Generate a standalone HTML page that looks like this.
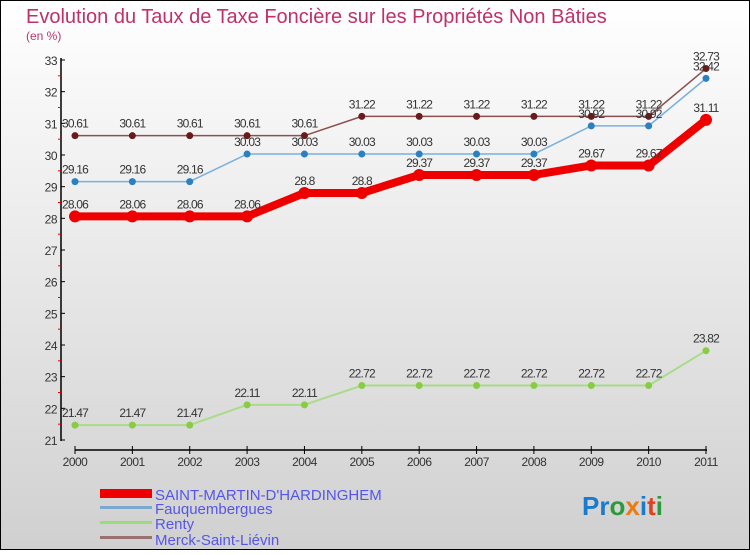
<!DOCTYPE html>
<html><head><meta charset="utf-8"><style>
body{margin:0}
#c{width:750px;height:550px;position:relative;font-family:"Liberation Sans",sans-serif;}
</style></head><body>
<div id="c">
<svg id="s" width="750" height="550" xmlns="http://www.w3.org/2000/svg">
<defs><linearGradient id="bg" x1="0" y1="0" x2="0" y2="1"><stop offset="0" stop-color="#ffffff"/><stop offset="1" stop-color="#d0d0d0"/></linearGradient></defs>
<rect x="0.5" y="0.5" width="749" height="549" fill="url(#bg)" stroke="#000"/>
<text x="26" y="23" font-size="20" fill="#c0306a">Evolution du Taux de Taxe Foncière sur les Propriétés Non Bâties</text>
<text x="26" y="40" font-size="12" fill="#c0306a">(en %)</text>
<g id="axes"></g><g id="series"></g>
<g>
<rect x="100" y="489" width="52" height="9" fill="#e00"/>
<text x="155" y="500" font-size="15" fill="#5555ee">SAINT-MARTIN-D'HARDINGHEM</text>
<rect x="100" y="506" width="52" height="3" fill="#7aa8d0"/>
<text x="155" y="514" font-size="15" fill="#5555ee">Fauquembergues</text>
<rect x="100" y="521" width="52" height="3" fill="#99dd77"/>
<text x="155" y="529" font-size="15" fill="#5555ee">Renty</text>
<rect x="100" y="536" width="52" height="3" fill="#9a7070"/>
<text x="155" y="545" font-size="15" fill="#5555ee">Merck-Saint-Liévin</text>
</g>
<text x="582" y="515" font-size="26" font-weight="bold"><tspan fill="#1a7acc">Pr</tspan><tspan fill="#2a9a3a">o</tspan><tspan fill="#f07a10">x</tspan><tspan fill="#1a7acc">i</tspan><tspan fill="#e04020">t</tspan><tspan fill="#2a9a3a">i</tspan></text>
</svg></div>
<script>
const years=["2000","2001","2002","2003","2004","2005","2006","2007","2008","2009","2010","2011"];
const yTicks=[21,22,23,24,25,26,27,28,29,30,31,32,33];
const stMartin=[28.06,28.06,28.06,28.06,28.8,28.8,29.37,29.37,29.37,29.67,29.67,31.11];
const fauq=[29.16,29.16,29.16,30.03,30.03,30.03,30.03,30.03,30.03,30.92,30.92,32.42];
const renty=[21.47,21.47,21.47,22.11,22.11,22.72,22.72,22.72,22.72,22.72,22.72,23.82];
const merck=[30.61,30.61,30.61,30.61,30.61,31.22,31.22,31.22,31.22,31.22,31.22,32.73];
const NS="http://www.w3.org/2000/svg";
const x=i=>75+i*(631/11);
const y=v=>440-(v-21)*(380/12);
function mk(t,a,p){const e=document.createElementNS(NS,t);for(const k in a)e.setAttribute(k,a[k]);p.appendChild(e);return e;}
const ax=document.getElementById('axes');
let l=mk('line',{x1:61,y1:58,x2:61,y2:441,stroke:'#000','stroke-width':1.5},ax);

l=mk('line',{x1:75,y1:450,x2:707,y2:450,stroke:'#000','stroke-width':1.5},ax);

yTicks.forEach(v=>{mk('line',{x1:61,y1:y(v),x2:65,y2:y(v),stroke:'#000'},ax);
 if(v<33)mk('line',{x1:58,y1:y(v+0.5),x2:61,y2:y(v+0.5),stroke:'#e00'},ax);
 const t=mk('text',{x:57,y:y(v)+5,'font-size':12,fill:'#333','text-anchor':'end','letter-spacing':'-0.5'},ax);t.textContent=v;
 });
years.forEach((yr,i)=>{mk('line',{x1:x(i),y1:446,x2:x(i),y2:454,stroke:'#000'},ax);
 const t=mk('text',{x:x(i),y:466,'font-size':12,fill:'#333','text-anchor':'middle','letter-spacing':'-0.5'},ax);t.textContent=yr;
 });
const sg=document.getElementById('series');
function draw(d,name,col,w,dot,r){
 const g=mk('g',{},sg);
 const p=mk('polyline',{points:d.map((v,i)=>x(i)+','+y(v)).join(' '),fill:'none',stroke:col,'stroke-width':w,'stroke-linejoin':'round'},g);
 
 d.forEach((v,i)=>{const c=mk('circle',{cx:x(i),cy:y(v),r:r,fill:dot},g);
  
  const t=mk('text',{x:x(i),y:y(v)-8,'font-size':12,fill:'#333','text-anchor':'middle','letter-spacing':'-0.8'},g);t.textContent=v;
  });
}
draw(renty,'renty','#a8dc88',2,'#88cc44',3.5);
draw(merck,'merck','#8a5050',1.5,'#6a1a1a',3.5);
draw(fauq,'fauquembergues','#7ab0dd',1.5,'#2a80c0',3.5);
draw(stMartin,'saint-martin','#ee0000',8,'#ee0000',6);
</script></body></html>
